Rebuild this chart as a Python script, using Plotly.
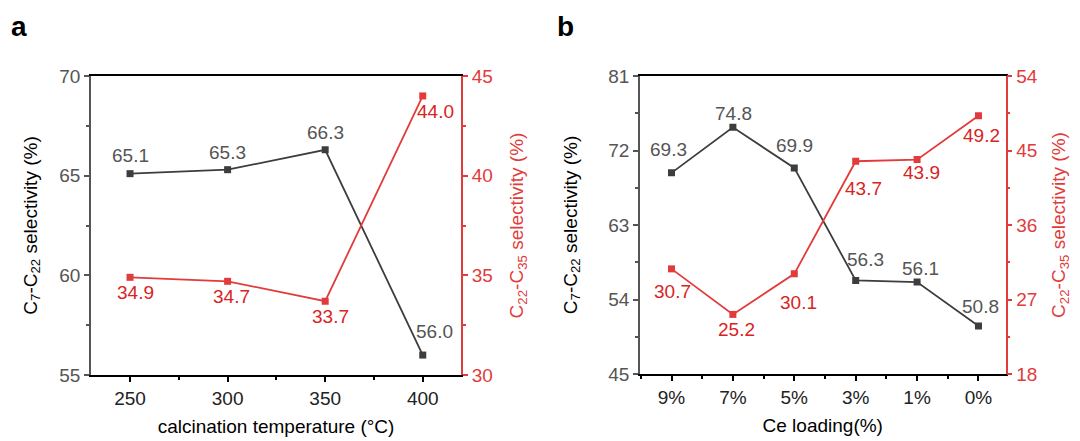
import plotly.graph_objects as go

# ---- data ----
temps = [250, 300, 350, 400]
a_c7_c22 = [65.1, 65.3, 66.3, 56.0]
a_c22_c35 = [34.9, 34.7, 33.7, 44.0]

ce_labels = ["9%", "7%", "5%", "3%", "1%", "0%"]
b_c7_c22 = [69.3, 74.8, 69.9, 56.3, 56.1, 50.8]
b_c22_c35 = [30.7, 25.2, 30.1, 43.7, 43.9, 49.2]

# ---- styles ----
FONT = "Liberation Sans, Arial, sans-serif"
DARK = "#3d3d3d"
GRAY_TXT = "#555555"
RED = "#e23b3b"
RED_TXT = "#d92323"
FS = 19
W, H = 1080, 441

# label offsets (pixels) for data annotations
a_blk_off = [(0, -18), (0, -17), (0, -17), (12, -24)]
a_red_off = [(5, 15), (4, 15), (5, 15), (13, 16)]
b_blk_off = [(-3, -23), (1, -14), (0, -22), (10, -21), (3, -14), (2, -19)]
b_red_off = [(1, 23), (4, 15), (4, 29), (8, 27), (4, 13), (3, 20)]

bx = list(range(len(ce_labels)))

fig = go.Figure()

def line(x, y, xa, ya, color):
    fig.add_trace(go.Scatter(
        x=x, y=y, xaxis=xa, yaxis=ya, mode="lines+markers",
        line=dict(color=color, width=1.8),
        marker=dict(symbol="square", size=7, color=color),
        showlegend=False, hoverinfo="skip"))

line(temps, a_c7_c22, "x", "y", DARK)
line(temps, a_c22_c35, "x", "y2", RED)
line(bx, b_c7_c22, "x2", "y3", DARK)
line(bx, b_c22_c35, "x2", "y4", RED)

annotations = []

def labels(x, y, xref, yref, offs, color):
    for xi, yi, (dx, dy) in zip(x, y, offs):
        annotations.append(dict(
            x=xi, y=yi, xref=xref, yref=yref, text=f"{yi:.1f}",
            showarrow=False, xshift=dx, yshift=-dy,
            font=dict(family=FONT, size=FS, color=color)))

labels(temps, a_c7_c22, "x", "y", a_blk_off, GRAY_TXT)
labels(temps, a_c22_c35, "x", "y2", a_red_off, RED_TXT)
labels(bx, b_c7_c22, "x2", "y3", b_blk_off, GRAY_TXT)
labels(bx, b_c22_c35, "x2", "y4", b_red_off, RED_TXT)

annotations.append(dict(text="<b>a</b>", x=9 / W, y=1 - 26 / H, xref="paper", yref="paper",
                        xanchor="left", yanchor="middle", showarrow=False,
                        font=dict(family=FONT, size=28, color="black")))
annotations.append(dict(text="<b>b</b>", x=555 / W, y=1 - 26 / H, xref="paper", yref="paper",
                        xanchor="left", yanchor="middle", showarrow=False,
                        font=dict(family=FONT, size=28, color="black")))

def xaxis_common():
    return dict(showgrid=False, zeroline=False, showline=True, linecolor="black", linewidth=1.8,
                mirror=True, ticks="outside", ticklen=5, tickwidth=1.5, tickcolor="black",
                automargin=False,
                tickfont=dict(family=FONT, size=FS, color="#222222"),
                title_font=dict(family=FONT, size=FS, color="black"), title_standoff=12)

def yaxis_left(standoff):
    return dict(showgrid=False, zeroline=False, showline=True, linecolor="#555555", linewidth=1.8,
                ticks="outside", ticklen=5, tickwidth=1.5, tickcolor="#555555", automargin=False,
                tickfont=dict(family=FONT, size=FS, color=GRAY_TXT),
                title_font=dict(family=FONT, size=FS, color="black"), title_standoff=standoff)

def yaxis_right(standoff):
    return dict(showgrid=False, zeroline=False, showline=True, linecolor=RED, linewidth=1.8,
                side="right", ticks="outside", ticklen=5, tickwidth=1.5, tickcolor=RED,
                automargin=False,
                tickfont=dict(family=FONT, size=FS, color=RED),
                title_font=dict(family=FONT, size=FS, color=RED), title_standoff=standoff)

xa = xaxis_common()
xa.update(domain=[91 / W, 461 / W], range=[230, 419.6], anchor="y",
          tickvals=temps, title_text="calcination temperature (°C)",
          minor=dict(ticks="outside", ticklen=3, tickwidth=1.5, tickcolor="black", tick0=225, dtick=50))
xb = xaxis_common()
xb.update(domain=[640 / W, 1005.5 / W], range=[-0.513, 5.44], anchor="y3",
          tickvals=bx, ticktext=ce_labels, title_text="Ce loading(%)",
          minor=dict(ticks="outside", ticklen=3, tickwidth=1.5, tickcolor="black", tick0=0.5, dtick=1))

ya = yaxis_left(17)
ya.update(domain=[1 - 375 / H, 1 - 76 / H], range=[55, 70], anchor="x", tickvals=[55, 60, 65, 70],
          title_text="C<sub>7</sub>-C<sub>22</sub> selectivity (%)",
          minor=dict(ticks="outside", ticklen=3, tickwidth=1.5, tickcolor="#555555", tick0=57.5, dtick=5))
ya2 = yaxis_right(18)
ya2.update(range=[30, 45], overlaying="y", anchor="x", tickvals=[30, 35, 40, 45],
           title_text="C<sub>22</sub>-C<sub>35</sub> selectivity (%)",
           minor=dict(ticks="outside", ticklen=3, tickwidth=1.5, tickcolor=RED, tick0=32.5, dtick=5))
yb = yaxis_left(26)
yb.update(domain=[1 - 374 / H, 1 - 76 / H], range=[45, 81], anchor="x2", tickvals=[45, 54, 63, 72, 81],
          title_text="C<sub>7</sub>-C<sub>22</sub> selectivity (%)",
          minor=dict(ticks="outside", ticklen=3, tickwidth=1.5, tickcolor="#555555", tick0=49.5, dtick=9))
yb2 = yaxis_right(15)
yb2.update(range=[18, 54], overlaying="y3", anchor="x2", tickvals=[18, 27, 36, 45, 54],
           title_text="C<sub>22</sub>-C<sub>35</sub> selectivity (%)",
           minor=dict(ticks="outside", ticklen=3, tickwidth=1.5, tickcolor=RED, tick0=22.5, dtick=9))

fig.update_layout(
    width=W, height=H, margin=dict(l=0, r=0, t=0, b=0),
    paper_bgcolor="white", plot_bgcolor="white",
    xaxis=xa, xaxis2=xb, yaxis=ya, yaxis2=ya2, yaxis3=yb, yaxis4=yb2,
    annotations=annotations, font=dict(family=FONT),
)

fig.write_html("out.html")
